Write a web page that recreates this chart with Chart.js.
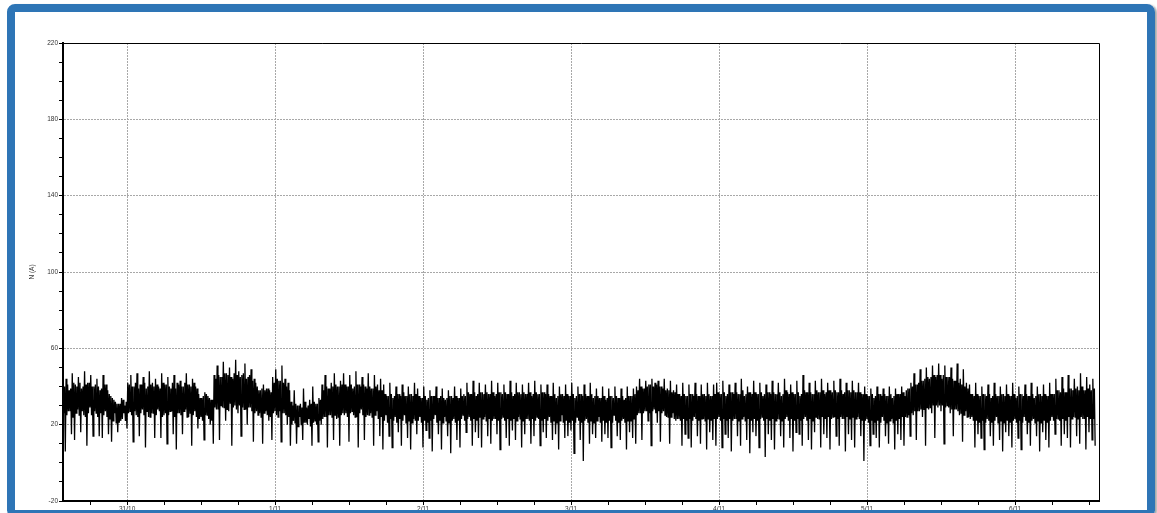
<!DOCTYPE html>
<html>
<head>
<meta charset="utf-8">
<script src="https://cdn.jsdelivr.net/npm/chart.js@4.4.0/dist/chart.umd.min.js"></script>
<style>
  html, body { margin: 0; padding: 0; background: #fff; width: 1157px; height: 513px; overflow: hidden; }
  #chart { position: absolute; left: 0; top: 0; }
  #frame {
    position: absolute; left: 7px; top: 4px; width: 1148px; height: 514px;
    box-sizing: border-box; border: 8px solid #2e75b6; border-radius: 8px;
    box-shadow: 2px 1px 2px rgba(0, 0, 0, 0.35); pointer-events: none;
  }
</style>
</head>
<body>
<canvas id="chart" width="1157" height="513"></canvas>
<div id="frame"></div>
<script>
// time axis in hours from 31/10 00:00, one sample every 7.5 min
const startHour = -10.4;
const stepHours = 0.125;
const dayHours = [0, 24, 48, 72, 96, 120, 144];
const dayLabels = ['31/10', '1/11', '2/11', '3/11', '4/11', '5/11', '6/11'];
const yLabelValues = [-20, 20, 60, 100, 140, 180, 220];
const yGridValues = [20, 60, 100, 140, 180];

// neutral current N (A)
const current = [
  40,26,40,6, 44,25,41,27, 38,27,39,15, 47,24,42,12, 41,26,40,28, 45,25,42,16, 39,27,40,25, 48,24,41,9, 42,26,42,29,
  46,25,40,14, 40,27,41,26, 44,24,40,14, 38,26,39,13, 46,25,41,27, 41,24,38,15, 36,23,35,11, 34,22,33,26, 32,21,31,16,
  31,21,31,22, 34,23,33,26, 30,22,32,18,
  42,26,41,27, 46,25,40,11, 40,27,42,25, 47,24,39,14, 41,26,41,28, 45,25,42,8, 39,27,40,24, 48,24,41,26, 42,26,40,13,
  44,25,41,28, 40,27,39,13, 47,24,42,25, 41,26,41,10, 45,25,40,27, 39,27,42,15, 46,24,39,7, 42,26,41,26, 43,25,40,15,
  40,27,42,28, 47,24,41,24, 41,26,40,9, 44,25,42,27, 40,24,39,18,
  36,23,34,24, 34,22,35,12, 37,25,36,25, 35,23,34,20, 33,22,33,10,
  46,29,44,28, 51,28,46,12, 45,30,45,29, 53,29,47,22, 47,28,46,27, 50,31,45,9, 44,29,47,30, 54,28,46,26, 48,30,45,14,
  46,29,47,28, 52,28,44,20, 45,29,46,29, 49,27,43,11, 44,26,42,27,
  40,25,38,26, 38,24,39,10, 41,26,38,27, 39,25,39,22, 38,24,37,12,
  45,26,42,27, 49,25,44,24, 43,27,43,11, 51,26,42,26, 44,25,40,20, 42,24,38,9,
  32,20,30,22, 38,21,31,10, 30,19,30,24, 31,20,29,12, 39,21,32,21, 29,20,30,23, 33,19,31,9, 40,21,32,22, 31,20,31,11, 34,22,33,20,
  41,23,38,24, 46,24,40,8, 39,25,39,25, 42,24,40,12, 47,25,41,23, 40,24,40,9, 43,25,41,26,
  47,25,41,26, 40,24,40,11, 46,26,41,27, 39,25,40,24, 48,24,41,8, 41,26,40,28, 45,25,41,12, 40,24,39,25, 47,25,40,26,
  39,24,39,9, 46,25,40,27, 41,23,38,14, 44,24,38,7,
  41,22,36,25, 35,21,35,14, 42,23,36,8, 34,22,35,24, 40,21,36,16, 36,23,35,9, 41,22,37,25, 35,21,35,13, 40,22,36,7,
  36,21,35,23, 42,22,36,15,
  39,22,35,24, 34,21,34,8, 40,22,35,17, 33,21,34,13, 38,22,35,6, 35,23,35,25, 40,21,34,15, 34,22,35,7, 39,21,34,24,
  33,22,34,14, 38,21,35,5, 35,22,34,23, 40,21,35,12, 34,22,34,8, 39,23,35,25, 36,22,35,16,
  42,23,37,24, 36,22,36,9, 43,23,37,16, 35,22,36,13, 42,24,37,8, 37,23,36,24, 41,22,37,14, 36,23,36,10, 43,22,37,23,
  35,23,36,15, 42,22,37,7, 37,23,36,24, 41,22,37,13, 36,23,36,9, 43,22,37,17, 35,23,36,12, 42,22,37,24, 37,23,36,8,
  41,22,37,15, 36,23,36,23, 42,22,37,10, 35,23,36,14, 43,22,37,24, 36,23,36,9, 41,22,37,16, 37,23,36,13,
  41,22,36,24, 35,21,35,12, 42,22,36,15, 34,21,35,7, 40,22,36,25, 36,21,35,13, 41,22,36,14, 35,21,35,17, 42,22,36,5,
  34,21,35,24, 40,22,36,12, 36,21,35,1, 41,22,36,23, 35,21,35,10, 42,22,36,15, 34,21,35,13,
  39,22,35,24, 34,21,34,11, 40,22,35,15, 33,21,34,13, 39,22,35,8, 35,21,34,25, 40,22,35,14, 34,21,34,12, 39,22,35,23,
  33,21,34,7, 40,22,35,16, 35,22,35,13, 39,23,36,10,
  40,25,38,26, 44,26,40,12, 39,26,39,27, 43,27,40,22, 41,26,41,9, 44,27,40,28, 42,26,41,21, 43,27,40,11, 40,26,39,27,
  44,25,38,24, 39,24,38,10, 43,24,37,26, 38,23,37,22,
  41,23,36,23, 36,22,35,9, 42,23,36,15, 35,22,35,13, 41,23,36,8, 36,22,35,24, 42,23,36,14, 35,22,35,10, 41,23,36,23,
  36,22,35,7, 42,23,36,16, 35,22,35,12, 41,23,36,9,
  42,23,37,24, 36,22,36,8, 43,23,37,15, 35,22,36,13, 41,23,37,6, 37,22,36,23, 42,23,37,14, 36,22,36,9, 44,23,38,24,
  35,22,36,12, 40,23,37,5, 37,22,36,16, 43,23,37,14, 36,22,36,8, 42,23,37,24, 35,22,36,3, 41,23,37,15, 37,22,36,12,
  43,23,37,7, 36,22,36,23, 42,23,37,14, 35,22,36,8, 44,23,38,24, 37,22,36,13, 41,23,37,6, 36,22,36,16, 43,23,37,15,
  35,22,36,9, 46,23,38,24, 37,22,37,12, 42,23,37,7, 36,22,36,16,
  43,24,38,23, 37,23,37,8, 44,24,38,15, 36,23,37,13, 42,24,38,7, 38,23,37,24, 43,24,38,14, 37,23,37,9, 44,24,38,23,
  36,23,37,6, 42,24,38,15, 38,23,37,12, 43,24,38,8, 37,23,37,24, 42,23,37,14, 36,22,36,1,
  40,22,36,23, 35,21,35,9, 39,22,36,15, 34,21,35,13, 40,22,36,8, 36,21,35,24, 39,22,36,14, 35,21,35,10, 40,22,36,23,
  34,21,35,7, 39,22,36,15, 36,23,36,12, 40,24,37,9, 35,24,38,24, 39,25,39,14,
  42,26,40,25, 47,27,41,12, 41,27,42,27, 49,28,43,24, 43,28,44,9, 50,29,45,28, 44,29,45,26, 51,30,46,13, 45,30,46,29,
  52,30,46,27, 44,30,46,10, 51,29,45,30, 45,29,45,26, 50,28,44,14, 43,28,43,28, 52,27,42,25, 44,26,41,11, 49,25,40,27,
  42,24,39,24,
  41,23,36,24, 36,22,35,8, 42,22,36,15, 35,21,35,13, 40,22,36,7, 36,21,35,23, 41,22,36,14, 34,21,35,9, 42,22,36,24,
  35,21,35,12, 40,22,36,6, 36,21,35,16, 41,22,36,14, 35,21,35,8, 42,22,36,23, 34,21,35,13, 40,22,36,7, 36,21,35,24,
  41,22,36,15, 35,21,35,9, 42,22,36,23, 34,21,35,14, 40,22,36,6, 36,21,35,16, 41,22,36,12, 35,21,35,8, 42,22,36,24,
  36,22,36,15,
  44,23,38,23, 38,22,37,9, 45,23,39,15, 37,22,37,13, 46,24,39,8, 39,23,38,24, 44,24,39,14, 40,23,38,10, 47,24,40,23,
  38,23,38,7, 45,24,39,16, 41,23,38,12, 44,23,39,9
];

const points = current.map((v, i) => ({ x: startHour + i * stepHours, y: v }));

const tickFont = { family: 'Arial, "Liberation Sans", sans-serif', size: 6.5 };

// top and right edges of the plot box
const plotFrame = {
  id: 'plotFrame',
  afterDatasetsDraw(chart) {
    const { ctx, chartArea: a } = chart;
    ctx.save();
    ctx.strokeStyle = '#000';
    ctx.lineWidth = 1;
    ctx.beginPath();
    ctx.moveTo(a.left, a.top + 0.5);
    ctx.lineTo(a.right + 0.5, a.top + 0.5);
    ctx.lineTo(a.right + 0.5, a.bottom);
    ctx.stroke();
    ctx.restore();
  }
};

new Chart(document.getElementById('chart'), {
  type: 'line',
  data: {
    datasets: [{
      label: 'N (A)',
      data: points,
      borderColor: '#000',
      borderWidth: 1.3,
      pointRadius: 0,
      tension: 0,
      fill: false
    }]
  },
  options: {
    responsive: false,
    animation: false,
    layout: { padding: { left: 24, top: 43, right: 58, bottom: 0 } },
    plugins: {
      legend: { display: false },
      tooltip: { enabled: false }
    },
    scales: {
      x: {
        type: 'linear',
        min: -10.4,
        max: 157.6,
        afterBuildTicks: s => {
          const t = [];
          for (let h = -6; h <= 156; h += 6) t.push({ value: h });
          s.ticks = t;
        },
        afterFit: s => { s.height = 12; s.paddingLeft = 0; s.paddingRight = 0; },
        ticks: {
          autoSkip: false,
          maxRotation: 0,
          padding: 0,
          font: tickFont,
          color: '#333',
          callback: v => {
            const k = dayHours.indexOf(v);
            return k >= 0 ? dayLabels[k] : '';
          }
        },
        grid: {
          color: c => (c.tick && dayHours.includes(c.tick.value)) ? '#a8a8a8' : 'transparent',
          lineWidth: 1,
          tickColor: '#000',
          tickLength: 4
        },
        border: { display: true, color: '#000', width: 2, dash: [2, 1] }
      },
      y: {
        min: -20,
        max: 220,
        afterBuildTicks: s => {
          const t = [];
          for (let v = -20; v <= 220; v += 10) t.push({ value: v });
          s.ticks = t;
        },
        afterFit: s => { s.width = 39; s.paddingTop = 0; s.paddingBottom = 0; },
        ticks: {
          autoSkip: false,
          padding: 1,
          font: tickFont,
          color: '#333',
          callback: v => yLabelValues.includes(v) ? String(v) : ''
        },
        grid: {
          color: c => (c.tick && yGridValues.includes(c.tick.value)) ? '#a8a8a8' : 'transparent',
          lineWidth: 1,
          tickColor: '#000',
          tickLength: 4
        },
        border: { display: true, color: '#000', width: 2, dash: [2, 1] },
        title: {
          display: true,
          text: 'N (A)',
          font: tickFont,
          color: '#333',
          padding: { top: 4, bottom: 0 }
        }
      }
    }
  },
  plugins: [plotFrame]
});
</script>
</body>
</html>
